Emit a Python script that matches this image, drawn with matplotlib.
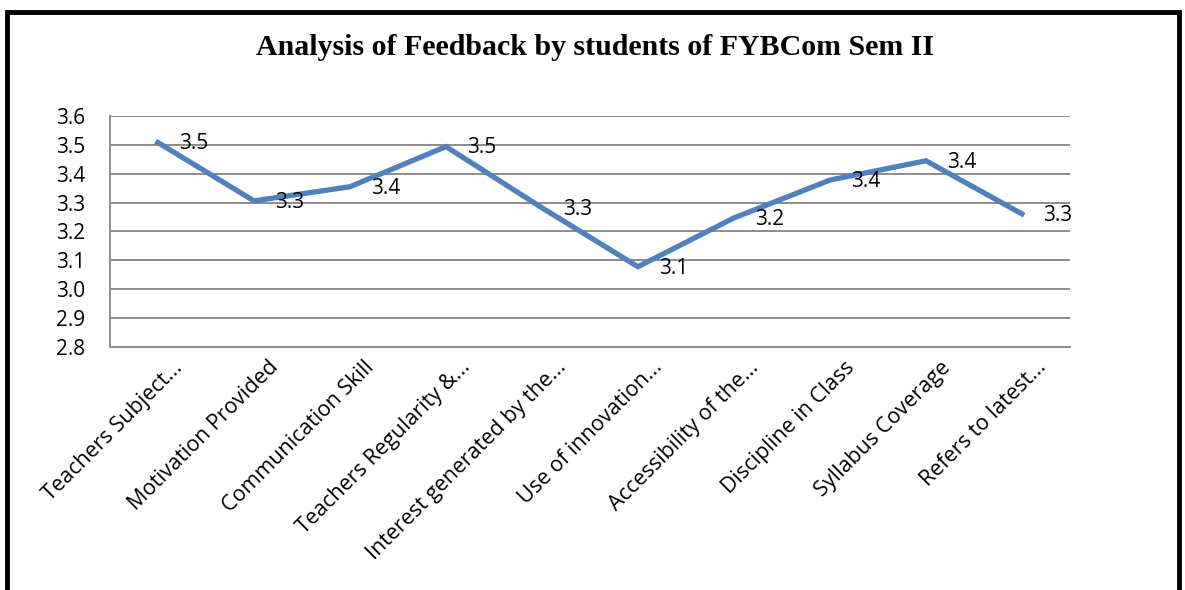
import matplotlib.pyplot as plt
import matplotlib.transforms as mtransforms
import numpy as np
from matplotlib.patches import Rectangle

categories = ['Teachers Subject...', 'Motivation Provided', 'Communication Skill',
              'Teachers Regularity &...', 'Interest generated by the...',
              'Use of innovation...', 'Accessibility of the...', 'Discipline in Class',
              'Syllabus Coverage', 'Refers to latest...']
scores = [3.508, 3.306, 3.355, 3.494, 3.282, 3.078, 3.247, 3.378, 3.445, 3.261]
y_ticks = [2.8, 2.9, 3.0, 3.1, 3.2, 3.3, 3.4, 3.5, 3.6]

fig = plt.figure(figsize=(11.85, 5.90), dpi=100)
ax = fig.add_axes([0.0928, 0.4119, 0.8101, 0.3915])

x = np.arange(len(categories))
ax.plot(x, scores, color='#4F81BD', lw=3.8, solid_joinstyle='miter', zorder=3)
for xi, v in zip(x, scores):
    ax.annotate('%.1f' % v, (xi, v), xytext=(15, -1), textcoords='offset points',
                ha='left', va='center', fontsize=15, family='Open Sans')

ax.set_xlim(-0.5, len(categories) - 0.5)
ax.set_ylim(2.8, 3.6)
ax.set_yticks(y_ticks)
ax.set_yticklabels(['%.1f' % t for t in y_ticks], fontsize=15, family='Open Sans')
ax.set_xticks(x)
ax.set_xticklabels([])
# category labels, rotated, end of text a little right of the category centre
lbl_tr = ax.get_xaxis_transform() + mtransforms.ScaledTranslation(14 / 100, -10 / 100, fig.dpi_scale_trans)
for xi, name in zip(x, categories):
    ax.text(xi, 0, name, transform=lbl_tr, rotation=45, ha='right', va='top',
            rotation_mode='anchor', fontsize=15.5, family='Open Sans')
ax.tick_params(axis='both', length=0)
ax.tick_params(axis='y', pad=18)
ax.grid(axis='y', color='#8c8c8c', lw=1.4)
ax.set_axisbelow(True)
for s in ['top', 'right']:
    ax.spines[s].set_visible(False)
for s in ['left', 'bottom']:
    ax.spines[s].set_color('#8c8c8c')
    ax.spines[s].set_linewidth(1.4)

fig.text(0.502, 0.92, 'Analysis of Feedback by students of FYBCom Sem II',
         ha='center', va='center', fontsize=21.5, fontweight='bold', family='Liberation Serif')

# outer frame
fig.patches.append(Rectangle((0.006, -0.01), 0.989, 0.99, transform=fig.transFigure,
                             fill=False, edgecolor='black', lw=3.5))

fig.savefig('out.png', dpi=100)
